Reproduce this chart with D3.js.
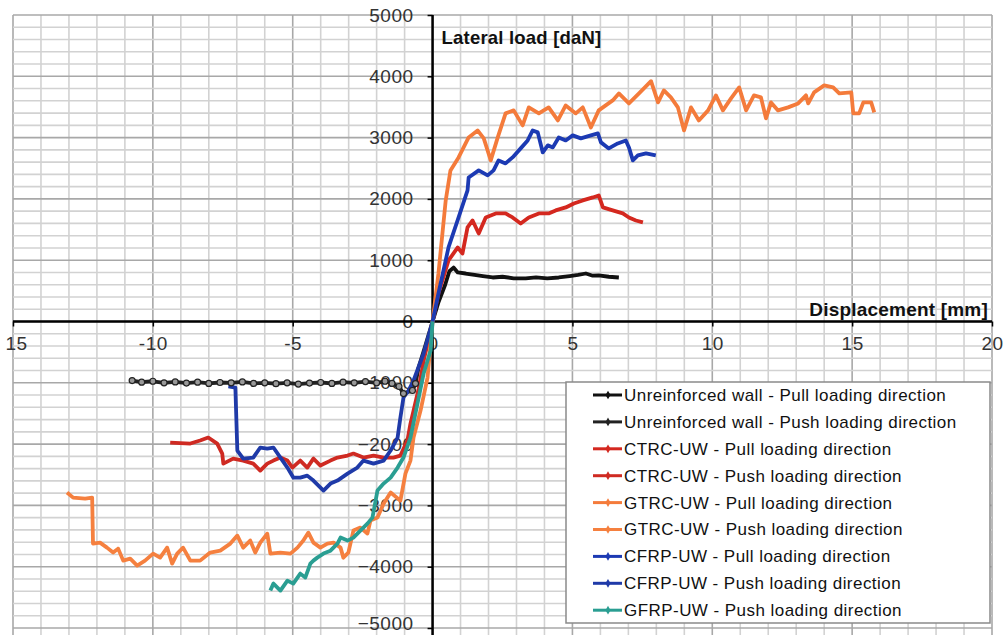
<!DOCTYPE html>
<html>
<head>
<meta charset="utf-8">
<script src="https://cdn.jsdelivr.net/npm/d3@7"></script>
<style>
  html, body { margin: 0; padding: 0; background: #fff; }
  svg { display: block; font-family: "Liberation Sans", Arial, sans-serif; }
</style>
</head>
<body>
<div id="chart"></div>
<script>
// tick values and labels
const xTicks = [-15, -10, -5, 0, 5, 10, 15, 20]
const xTickLabels = ['15', '-10', '-5', '0', '5', '10', '15', '20']
const yTicks = [5000, 4000, 3000, 2000, 1000, 0, -1000, -2000, -3000, -4000, -5000]

// [displacement mm, lateral load daN]
const uwPull = [[0,0],[0.2,300],[0.45,600],[0.6,820],[0.75,880],[0.9,800],[1.18,783],[1.5,760],[1.8,740],[2.15,718],[2.5,730],[2.9,705],[3.33,702],[3.7,720],[4.1,705],[4.51,718],[4.9,740],[5.2,760],[5.48,783],[5.7,750],[5.94,751],[6.3,730],[6.66,718]]
const uwPush = [[0,0],[-0.25,-380],[-0.5,-750],[-0.61,-1012],[-0.72,-1126],[-1.04,-1175],[-1.2,-1060],[-1.45,-1010],[-1.7,-975],[-2.0,-1000],[-2.4,-980],[-2.8,-1000],[-3.2,-990],[-3.6,-1010],[-4.0,-995],[-4.4,-1005],[-4.8,-1020],[-5.2,-1000],[-5.6,-1015],[-6.0,-1000],[-6.4,-1010],[-6.8,-985],[-7.2,-1000],[-7.6,-995],[-8.0,-1010],[-8.4,-990],[-8.8,-1005],[-9.2,-985],[-9.6,-1000],[-10.0,-975],[-10.4,-990],[-10.74,-963]]
const ctrcPull = [[0,0],[0.21,457],[0.57,996],[0.9,1208],[1.07,1110],[1.25,1534],[1.43,1648],[1.65,1436],[1.9,1697],[2.26,1763],[2.61,1763],[2.86,1697],[3.15,1599],[3.44,1697],[3.8,1763],[4.15,1763],[4.4,1812],[4.76,1861],[5.05,1926],[5.37,1975],[5.73,2024],[5.94,2056],[6.09,1861],[6.44,1812],[6.8,1763],[7.02,1697],[7.27,1648],[7.52,1616]]
const ctrcPush = [[0,0],[-0.3,-600],[-0.5,-1100],[-0.68,-1453],[-0.79,-1665],[-0.9,-1942],[-1.15,-2187],[-1.4,-2220],[-1.75,-2220],[-2.11,-2187],[-2.47,-2220],[-2.83,-2154],[-3.04,-2187],[-3.4,-2220],[-3.65,-2269],[-4.01,-2350],[-4.26,-2236],[-4.48,-2383],[-4.73,-2269],[-5.01,-2383],[-5.19,-2269],[-5.44,-2220],[-5.69,-2269],[-5.91,-2318],[-6.16,-2432],[-6.41,-2318],[-6.77,-2269],[-7.13,-2236],[-7.48,-2318],[-7.52,-2154],[-7.7,-1991],[-8.02,-1893],[-8.31,-1942],[-8.66,-1991],[-9.38,-1975]]
const gtrcPull = [[0,0],[0.21,784],[0.47,1975],[0.64,2465],[0.93,2677],[1.29,3003],[1.61,3117],[1.83,2987],[2.08,2628],[2.33,3003],[2.61,3395],[2.9,3444],[3.22,3199],[3.44,3493],[3.8,3395],[4.15,3493],[4.48,3280],[4.76,3525],[5.12,3395],[5.37,3493],[5.66,3166],[5.94,3444],[6.44,3607],[6.66,3721],[7.02,3558],[7.38,3721],[7.81,3920],[8.06,3574],[8.27,3770],[8.52,3656],[8.77,3493],[8.99,3117],[9.24,3493],[9.52,3280],[9.85,3444],[10.13,3689],[10.38,3444],[10.67,3640],[10.96,3819],[11.21,3444],[11.49,3689],[11.74,3656],[11.92,3313],[12.1,3574],[12.35,3444],[12.71,3493],[13.07,3558],[13.35,3689],[13.43,3558],[13.64,3737],[14.0,3852],[14.32,3819],[14.54,3721],[14.97,3737],[15.04,3395],[15.25,3395],[15.4,3574],[15.68,3574],[15.79,3411]]
const gtrcPush = [[0,0],[-0.18,-914],[-0.43,-1453],[-0.68,-1893],[-0.79,-2269],[-0.97,-2481],[-1.15,-2922],[-1.5,-2791],[-1.75,-2971],[-1.97,-3199],[-2.22,-3248],[-2.33,-3460],[-2.58,-3362],[-2.83,-3411],[-3.01,-3770],[-3.19,-3852],[-3.29,-3689],[-3.54,-3607],[-3.76,-3623],[-4.01,-3689],[-4.26,-3607],[-4.44,-3444],[-4.62,-3574],[-4.83,-3689],[-5.08,-3786],[-5.44,-3770],[-5.8,-3786],[-5.91,-3460],[-6.16,-3607],[-6.34,-3770],[-6.52,-3574],[-6.77,-3689],[-6.98,-3493],[-7.23,-3623],[-7.59,-3738],[-7.95,-3770],[-8.31,-3901],[-8.66,-3901],[-8.92,-3689],[-9.13,-3786],[-9.31,-3950],[-9.49,-3689],[-9.74,-3852],[-9.99,-3786],[-10.28,-3901],[-10.56,-3982],[-10.81,-3868],[-11.06,-3901],[-11.24,-3705],[-11.42,-3770],[-11.64,-3689],[-11.89,-3607],[-12.14,-3623],[-12.17,-2873],[-12.42,-2889],[-12.85,-2873],[-13.07,-2791]]
const cfrpPull = [[0,0],[0.21,457],[0.57,1208],[0.93,1697],[1.25,2138],[1.29,2350],[1.65,2465],[1.97,2383],[2.18,2465],[2.36,2628],[2.61,2579],[2.86,2677],[3.15,2824],[3.4,2954],[3.58,3117],[3.76,3085],[3.94,2758],[4.12,2873],[4.3,2840],[4.51,3003],[4.76,2954],[5.01,3036],[5.3,2987],[5.66,3036],[5.91,3068],[6.02,2922],[6.3,2824],[6.62,2905],[6.91,2954],[7.02,2840],[7.16,2628],[7.34,2709],[7.63,2742],[7.98,2709]]
const cfrpPush = [[0,0],[-0.32,-522],[-0.68,-963],[-0.86,-1126],[-1.04,-1240],[-1.15,-1567],[-1.25,-1893],[-1.5,-2105],[-1.75,-2269],[-2.11,-2318],[-2.47,-2269],[-2.69,-2383],[-3.04,-2481],[-3.4,-2595],[-3.65,-2644],[-3.9,-2758],[-4.26,-2595],[-4.48,-2514],[-4.73,-2546],[-4.98,-2546],[-5.19,-2383],[-5.44,-2220],[-5.69,-2056],[-5.91,-2073],[-6.16,-2056],[-6.41,-2220],[-6.77,-2236],[-6.98,-2105],[-7.05,-1077],[-7.3,-1060]]
const gfrpPush = [[0,0],[-0.07,-473],[-0.32,-849],[-0.54,-1338],[-0.79,-1893],[-1.04,-2220],[-1.25,-2383],[-1.5,-2546],[-1.75,-2644],[-1.97,-2758],[-2.15,-3199],[-2.33,-3297],[-2.58,-3411],[-2.83,-3525],[-3.04,-3574],[-3.29,-3525],[-3.4,-3623],[-3.65,-3738],[-3.9,-3786],[-4.12,-3852],[-4.26,-3901],[-4.37,-3950],[-4.55,-4178],[-4.73,-4113],[-4.98,-4276],[-5.19,-4227],[-5.44,-4390],[-5.69,-4276],[-5.8,-4390]]

const seriesNames = [
  'Unreinforced wall - Pull loading direction',
  'Unreinforced wall - Push loading direction',
  'CTRC-UW - Pull loading direction',
  'CTRC-UW - Push loading direction',
  'GTRC-UW - Pull loading direction',
  'GTRC-UW - Push loading direction',
  'CFRP-UW - Pull loading direction',
  'CFRP-UW - Push loading direction',
  'GFRP-UW - Push loading direction'
]
const seriesData = [uwPull, uwPush, ctrcPull, ctrcPush, gtrcPull, gtrcPush, cfrpPull, cfrpPush, gfrpPush]
const seriesColors = ['#111111', '#222222', '#d4281f', '#cf2a22', '#f47b3b', '#f5803f', '#1c3ab3', '#1f3aa8', '#2a9e92']

;(function drawChart() {
  const WIDTH = 1003
  const HEIGHT = 635

  const svg = d3.select('#chart')
    .append('svg')
    .attr('width', WIDTH)
    .attr('height', HEIGHT)

  const x = d3.scaleLinear().domain([-15, 20]).range([13, 992])
  const y = d3.scaleLinear().domain([-5000, 5000]).range([628, 15])

  // grid
  const grid = svg.append('g')
  grid.selectAll('line.vx')
    .data(d3.range(-15, 21, 1))
    .enter().append('line')
    .attr('x1', (d) => x(d)).attr('x2', (d) => x(d))
    .attr('y1', y(5000)).attr('y2', HEIGHT)
    .attr('stroke', (d) => d % 5 === 0 ? '#a8a8a8' : '#d2d2d2')
    .attr('stroke-width', 1.6)
  grid.selectAll('line.hy')
    .data(d3.range(-5000, 5001, 200))
    .enter().append('line')
    .attr('x1', x(-15)).attr('x2', x(20))
    .attr('y1', (d) => y(d)).attr('y2', (d) => y(d))
    .attr('stroke', (d) => d % 1000 === 0 ? '#a8a8a8' : '#d2d2d2')
    .attr('stroke-width', 1.6)

  // axes
  const xAxis = d3.axisBottom(x)
    .tickValues(xTicks)
    .tickFormat((d, i) => xTickLabels[i])
    .tickSize(5)
    .tickPadding(10)
  const yAxis = d3.axisLeft(y)
    .tickValues(yTicks)
    .tickFormat(d3.format('d'))
    .tickSize(5)
    .tickPadding(14)

  const gx = svg.append('g')
    .attr('transform', 'translate(0,' + y(0) + ')')
    .call(xAxis)
  const gy = svg.append('g')
    .attr('transform', 'translate(' + x(0) + ',0)')
    .call(yAxis)

  ;[gx, gy].forEach((g) => {
    g.select('.domain').remove()
    g.selectAll('.tick line').attr('stroke', '#000').attr('stroke-width', 1.5)
    g.selectAll('.tick text')
      .attr('fill', '#333')
      .style('font-size', '19px')
      .style('letter-spacing', '0.5px')
  })
  gx.selectAll('.tick text').filter((d) => d === -15).attr('dx', 3)
  // bottom label sits on the window edge, as in the source
  gy.selectAll('.tick text').filter((d) => d === -5000).attr('dy', '0.1em')

  svg.append('line')
    .attr('x1', x(-15)).attr('x2', x(20))
    .attr('y1', y(0)).attr('y2', y(0))
    .attr('stroke', '#000').attr('stroke-width', 2.5)
  svg.append('line')
    .attr('x1', x(0)).attr('x2', x(0))
    .attr('y1', y(5000)).attr('y2', HEIGHT)
    .attr('stroke', '#000').attr('stroke-width', 2.5)

  svg.append('text')
    .attr('x', x(0) + 9).attr('y', 44)
    .style('font-size', '18.5px').style('font-weight', 'bold')
    .style('letter-spacing', '0.2px')
    .attr('fill', '#111')
    .text('Lateral load [daN]')
  svg.append('text')
    .attr('x', x(20) - 4).attr('y', y(0) - 6)
    .attr('text-anchor', 'end')
    .style('font-size', '19px').style('font-weight', 'bold')
    .style('letter-spacing', '0.2px')
    .attr('fill', '#111')
    .text('Displacement [mm]')

  // series
  const line = d3.line()
    .x((d) => x(d[0]))
    .y((d) => y(d[1]))

  const lines = svg.append('g')
  seriesData.forEach((data, i) => {
    lines.append('path')
      .datum(data)
      .attr('d', line)
      .attr('fill', 'none')
      .attr('stroke', seriesColors[i])
      .attr('stroke-width', 3.8)
      .attr('stroke-linejoin', 'round')
  })

  // push curve of the unreinforced wall has open circle markers
  lines.append('g').selectAll('circle')
    .data(uwPush.slice(3))
    .enter().append('circle')
    .attr('cx', (d) => x(d[0]))
    .attr('cy', (d) => y(d[1]))
    .attr('r', 3)
    .attr('fill', '#999')
    .attr('stroke', '#222')
    .attr('stroke-width', 1.2)

  // legend
  const legend = svg.append('g')
  legend.append('rect')
    .attr('x', 566).attr('y', 382)
    .attr('width', 424).attr('height', 241)
    .attr('fill', '#fff')
    .attr('stroke', '#8a8a8a')
    .attr('stroke-width', 1.5)

  const rows = legend.selectAll('g.row')
    .data(seriesNames)
    .enter().append('g')
    .attr('transform', (d, i) => 'translate(0,' + (395 + i * 26.9) + ')')
  rows.append('line')
    .attr('x1', 593).attr('x2', 622)
    .attr('y1', 0).attr('y2', 0)
    .attr('stroke', (d, i) => seriesColors[i])
    .attr('stroke-width', 3)
  rows.append('path')
    .attr('d', d3.symbol(d3.symbolDiamond, 22))
    .attr('transform', 'translate(608,0)')
    .attr('fill', (d, i) => seriesColors[i])
  rows.append('text')
    .attr('x', 624).attr('y', 0).attr('dy', '0.35em')
    .style('font-size', '17px')
    .style('letter-spacing', '0.45px')
    .attr('fill', '#111')
    .text((d) => d)
})()
</script>
</body>
</html>
